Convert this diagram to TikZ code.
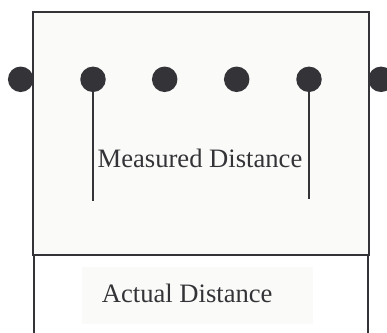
\documentclass[tikz,border=0pt]{standalone}
\usepackage{fontspec}
\setmainfont{Liberation Serif}
\usetikzlibrary{positioning}
\definecolor{inkgray}{RGB}{52,52,56}
\definecolor{paper}{RGB}{250,250,248}

\begin{document}
\begin{tikzpicture}[x=1pt, y=-1pt, every node/.style={font=\fontsize{26.6}{30}\selectfont, text=inkgray, inner sep=0pt}, dot/.style={circle,fill=inkgray,minimum size=25.5pt}, wall/.style={draw=inkgray,line width=2pt}, leg/.style={draw=inkgray,line width=1.7pt}, panel/.style={fill=paper,minimum width=231pt,minimum height=57pt}]
\useasboundingbox (0,0) rectangle (387,332);
% measured area and the open bottom part
\draw[wall,fill=paper] (33,12) rectangle (369,255);
\draw[wall] (34,255) -- (34,334); \draw[wall] (368,255) -- (368,334);
\node[panel] (actbox) at (197.5,295.5) {};
\node[anchor=west] (actual) at (101.7,293.5) {Actual Distance};
\node (meas) at (200,158) {Measured Distance};
% points along the line
\foreach \x [count=\i] in {20.7,93,164.7,236.7,309,381} \node[dot] (d\i) at (\x,79.3) {};
\coordinate (l2) at (93,201); \coordinate (l5) at (309,199);
\draw[leg] (d2.south) -- (l2); \draw[leg] (d5.south) -- (l5);
\end{tikzpicture}
\end{document}
